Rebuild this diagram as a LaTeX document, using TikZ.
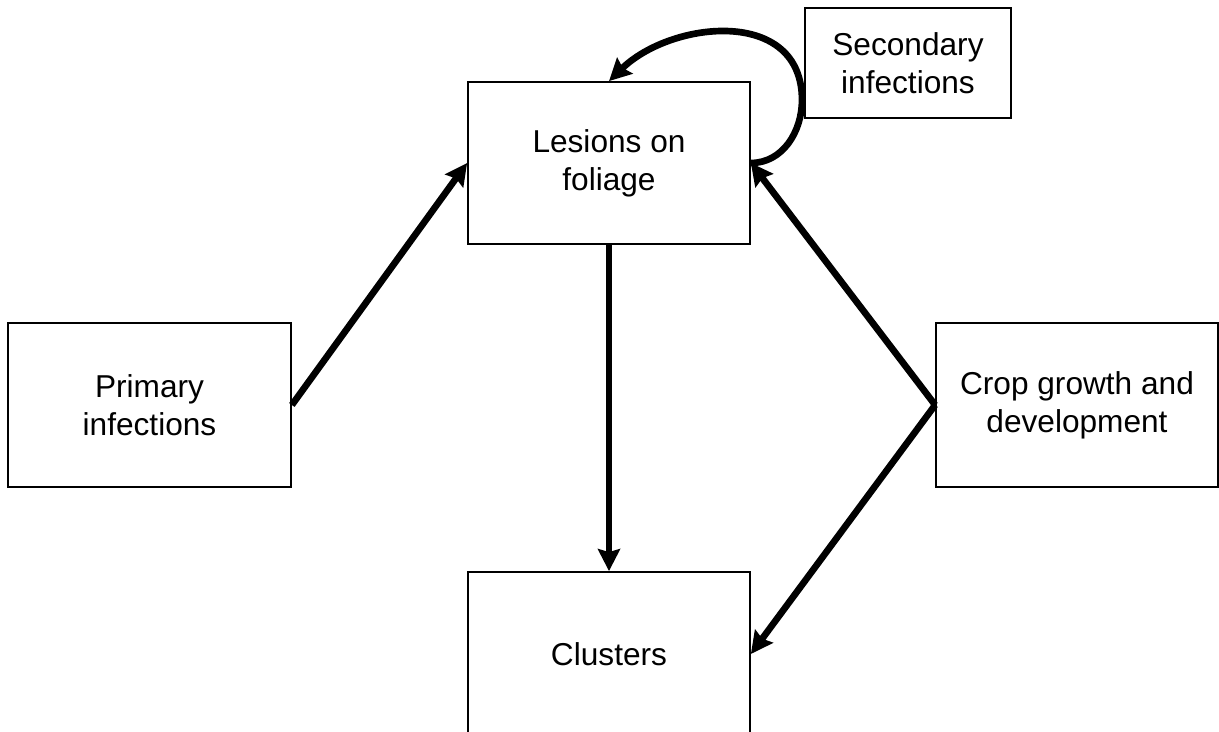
\documentclass[tikz,border=0pt]{standalone}
\usepackage{fontspec}
\setmainfont{Liberation Sans}
\usetikzlibrary{arrows.meta}
\tikzset{
	box/.style={
			draw, line width=1pt, align=center, inner sep=0pt,
			font=\fontsize{18}{21.6}\selectfont
		},
	flow/.style={
			line width=3.8pt,
			-{Stealth[length=0.44cm,width=0.44cm,inset=0.06cm]}
		}
}

\begin{document}
\begin{tikzpicture}
			\useasboundingbox (0,0) rectangle (24.38,14.64);

			\node[box, minimum width=5.64cm, minimum height=3.24cm] (lesions)	at (12.18, 11.38) {Lesions on\\foliage};
			\node[box, minimum width=4.12cm, minimum height=2.2cm] (secondary)	at (18.16, 13.38) {Secondary\\infections};
			\node[box, minimum width=5.66cm, minimum height=3.28cm] (primary)	at (2.99, 6.54) {Primary\\infections};
			\node[box, minimum width=5.64cm, minimum height=3.28cm] (crop)	at (21.54, 6.54) {Crop growth and\\development};
			\node[box, minimum width=5.64cm, minimum height=3.28cm] (clusters)	at (12.18, 1.56) {Clusters};

			\coordinate (loop) at (16.04, 12.64);

			\draw[flow]	(primary.east) -- (lesions.west);
			\draw[flow]	(lesions.south) -- (clusters.north);
			\draw[flow]	(crop.west) -- (lesions.east);
			\draw[flow]	(crop.west) -- (clusters.east);
			\draw[flow]	(lesions.east) to[out=0, in=-90] (loop)
				.. controls (16.04, 14.5) and (13.44, 14.24) .. (lesions.north);
		\end{tikzpicture}
\end{document}
